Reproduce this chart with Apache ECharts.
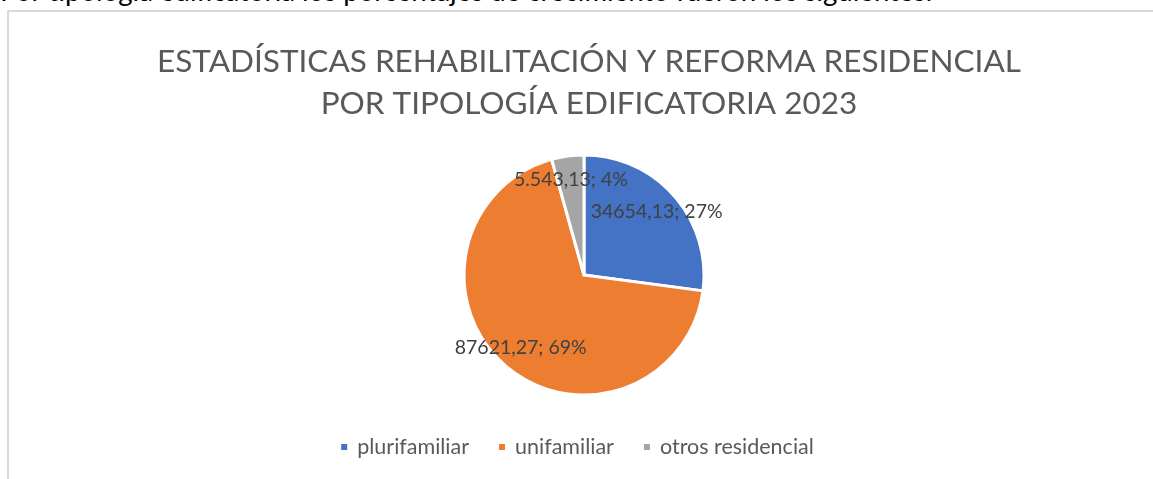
<!DOCTYPE html>
<html>
<head>
<meta charset="utf-8">
<script src="https://cdn.jsdelivr.net/npm/echarts@6/dist/echarts.min.js"></script>
<style>
  body { margin:0; background:#fff; overflow:hidden; }
  #intro { position:absolute; left:0; top:-26px; font-family:Lato, sans-serif; font-size:27.6px; color:#000; white-space:nowrap; }
  #frame { position:absolute; left:7px; top:10px; width:1300px; height:600px; border:2px solid #d9d9d9; box-sizing:border-box; }
  #main { position:absolute; left:0; top:0; width:1153px; height:479px; }
</style>
</head>
<body>
<div id="intro">Por tipología edificatoria los porcentajes de crecimiento fueron los siguientes:</div>
<div id="frame"></div>
<div id="main"></div>
<script>
// datos del gráfico
var tipologias = ['plurifamiliar', 'unifamiliar', 'otros residencial'];
var valores = [34654.13, 87621.27, 5543.13];
var etiquetas = ['34654,13', '87621,27', '5.543,13'];
var colores = ['#4472C4', '#ED7D31', '#A5A5A5'];
var titulo = 'ESTADÍSTICAS REHABILITACIÓN Y REFORMA RESIDENCIAL\nPOR TIPOLOGÍA EDIFICATORIA 2023';

var myChart = echarts.init(document.getElementById('main'));

var datos = tipologias.map(function (n, i) {
  return { name: n, value: valores[i], itemStyle: { color: colores[i] } };
});

var option = {
  animation: false,
  title: {
    text: titulo,
    left: 584,
    top: 36,
    textAlign: 'center',
    textStyle: { fontFamily: 'Lato', fontWeight: 'normal', fontSize: 31.5, color: '#595959', lineHeight: 42 }
  },
  legend: {
    data: tipologias,
    bottom: 16,
    left: 'center',
    icon: 'rect',
    itemWidth: 8,
    itemHeight: 8,
    itemGap: 28,
    textStyle: { fontFamily: 'Lato', fontSize: 21.5, color: '#595959', padding: [0, 0, 0, 4] }
  },
  series: [
    {
      type: 'pie',
      center: [584, 275],
      radius: [0, 120],
      startAngle: 90,
      clockwise: true,
      silent: true,
      itemStyle: { borderColor: '#fff', borderWidth: 3 },
      label: { show: false },
      labelLine: { show: false },
      data: datos
    },
    {
      // serie transparente solo para colocar las etiquetas
      type: 'pie',
      center: [584, 275],
      radius: [67, 120],
      startAngle: 90,
      clockwise: true,
      silent: true,
      itemStyle: { color: 'rgba(0,0,0,0)' },
      label: {
        show: true,
        position: 'inside',
        fontFamily: 'Lato',
        fontSize: 19.5,
        color: '#404040',
        formatter: function (p) {
          return etiquetas[p.dataIndex] + '; ' + Math.round(p.percent) + '%';
        }
      },
      labelLine: { show: false },
      data: tipologias.map(function (n, i) { return { name: n, value: valores[i] }; })
    }
  ]
};
myChart.setOption(option);
</script>
</body>
</html>
